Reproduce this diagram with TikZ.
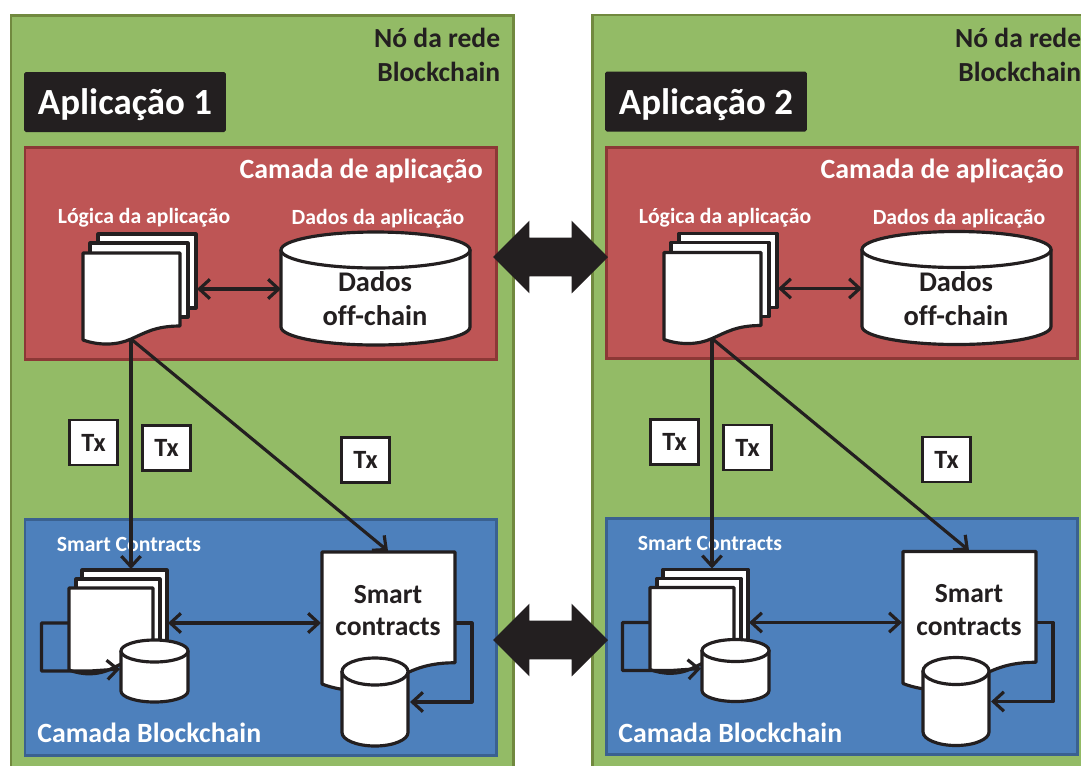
\documentclass[tikz,border=0pt]{standalone}
\usepackage{fontspec}
\setmainfont{Carlito}[Ligatures=NoCommon]
\usetikzlibrary{arrows.meta, shapes.arrows}
\definecolor{nodegreen}{HTML}{93BB66}
\definecolor{nodeedge}{HTML}{71893F}
\definecolor{appred}{HTML}{BE5555}
\definecolor{appedge}{HTML}{8C3836}
\definecolor{chainblue}{HTML}{4D80BC}
\definecolor{chainedge}{HTML}{3A6190}
\definecolor{inkblack}{HTML}{231F20}
\tikzset{
    panel/.style={draw=nodeedge, fill=nodegreen, line width=1.7pt},
    applayer/.style={draw=appedge, fill=appred, line width=1.7pt},
    chainlayer/.style={draw=chainedge, fill=chainblue, line width=1.7pt},
    page/.style={draw=inkblack, fill=white, line width=1.8pt, line join=round},
    link/.style={draw=inkblack, line width=1.8pt, line join=round, -{Straight Barb[length=6pt,width=11pt,line width=1.8pt]}},
    twolink/.style={draw=inkblack, line width=1.8pt, {Straight Barb[length=6pt,width=11pt,line width=1.8pt]}-{Straight Barb[length=6pt,width=11pt,line width=1.8pt]}},
    txbox/.style={draw=inkblack, fill=white, line width=1.4pt, minimum width=0.96cm, minimum height=0.9cm, inner sep=0pt, font=\fontsize{15}{17}\bfseries, text=inkblack},
    bigarrow/.style={double arrow, fill=inkblack, minimum height=2.3cm, inner xsep=0pt, inner ysep=0.38cm, double arrow head extend=0.34cm},
    title/.style={font=\fontsize{21}{24}\bfseries, text=white, text depth=0pt},
    heading/.style={font=\fontsize{15.85}{18}\bfseries, text=white, inner sep=0pt},
    small/.style={font=\fontsize{12.35}{14}\bfseries, text=white, inner sep=0pt},
    dark/.style={font=\fontsize{15.7}{18.7}\bfseries, text=inkblack, align=center, inner sep=0pt},
}
% page with a wavy lower edge: left, top, width, left height
\newcommand{\wavepage}[4]{
    \draw[page, shift={(#1,#2)}, xscale=#3/97, yscale=#4/87]
        (0,0) -- (97,0) -- (97,73) .. controls (72,73) and (62,80) .. (48,86)
        .. controls (35,92) and (17,93) .. (0,87) -- cycle;
}
% database drum: centre x, top, x radius, y radius, bottom
\newcommand{\drum}[5]{
    \draw[page] ({#1-#3},{#2+#4}) -- ({#1-#3},{#5-#4})
        .. controls ({#1-#3},{#5-0.45*#4}) and ({#1-0.55*#3},#5) .. (#1,#5)
        .. controls ({#1+0.55*#3},#5) and ({#1+#3},{#5-0.45*#4}) .. ({#1+#3},{#5-#4})
        -- ({#1+#3},{#2+#4}) -- cycle;
    \draw[page] (#1,{#2+#4}) ellipse [x radius=#3, y radius=#4];
}
\begin{document}
\begin{tikzpicture}[x=0.02cm, y=-0.02cm]
    \useasboundingbox (0,0) rectangle (1081,765);
    \clip (0,0) rectangle (1081,765);

    \foreach \dx/\dy/\appnum in {0/0/1, 581/-0.5/2} {
    \begin{scope}[shift={(\dx,\dy)}]
        % node of the network
        \draw[panel] (11,15.5) rectangle (513,775);
        \node[dark, anchor=east] (rede\appnum) at (500.5,38) {Nó da rede};
        \node[dark, anchor=east] (chain\appnum) at (500.5,72) {Blockchain};
        \node[fill=inkblack, rounded corners=1pt, minimum width=4.04cm, minimum height=1.2cm, inner sep=0pt, title] (app\appnum) at (125,102) {Aplicação \appnum};

        % application layer
        \draw[applayer] (25,147.5) rectangle (496,359);
        \node[heading, anchor=east] (camada\appnum) at (483,171.5) {Camada de aplicação};
        \node[small] (logica\appnum) at (144,218) {Lógica da aplicação};
        \node[small] (dados\appnum) at (378,219) {Dados da aplicação};
        \draw[page] (98,234) rectangle (196,308);
        \draw[page] (90,243) rectangle (188,317);
        \wavepage{83}{253}{97}{87}
        \drum{375.5}{232}{94.5}{18}{345}
        \node[dark, font=\fontsize{16.2}{19.3}\bfseries] (offtext\appnum) at (375,299) {Dados\\off-chain};
        \coordinate (logicaout\appnum) at (131,339);
        \coordinate (logicaside\appnum) at (197,289);
        \coordinate (offside\appnum) at (281,289);
        \draw[twolink] (logicaside\appnum) -- (offside\appnum);

        % blockchain layer
        \draw[chainlayer] (25,519) rectangle (496,755);
        \node[small] (contracts\appnum) at (129,544) {Smart Contracts};
        \node[heading, anchor=west] (camadachain\appnum) at (37,733) {Camada Blockchain};
        \draw[page] (82,570) rectangle (167,650);
        \draw[page] (76,579) rectangle (160,655);
        \wavepage{69}{588}{84}{82}
        \wavepage{322}{552}{133}{132}
        \node[dark] (smarttext\appnum) at (388,610.5) {Smart\\contracts};
        \drum{154.5}{640}{33.5}{11}{702}
        \drum{375}{658}{33}{13.5}{746}

        \coordinate (stacktop\appnum) at (131,569);
        \coordinate (doctop\appnum) at (388,551);
        \coordinate (stackside\appnum) at (168,623);
        \coordinate (docside\appnum) at (321,623);
        \coordinate (stackleft\appnum) at (69,623);
        \coordinate (miniin\appnum) at (120,669);
        \coordinate (docright\appnum) at (455,623);
        \coordinate (dbin\appnum) at (410,702);

        \draw[twolink] (stackside\appnum) -- (docside\appnum);
        \draw[link] (stackleft\appnum) -- (41.5,623) -- (41.5,671) -- (90,671) -- (miniin\appnum);
        \draw[link] (docright\appnum) -- (472,623) -- (472,702) -- (dbin\appnum);

        % transactions
        \draw[link] (logicaout\appnum) -- (stacktop\appnum);
        \draw[link] (logicaout\appnum) -- (doctop\appnum);
        \node[txbox] (txa\appnum) at (93.5,442.5) {Tx};
        \node[txbox] (txb\appnum) at (166.5,448) {Tx};
        \node[txbox] (txc\appnum) at (365.5,460) {Tx};
    \end{scope}
    }

    % links between the two nodes
    \node[bigarrow] (applink) at (550.5,257) {};
    \node[bigarrow] (chainlink) at (550.5,640) {};
\end{tikzpicture}
\end{document}
